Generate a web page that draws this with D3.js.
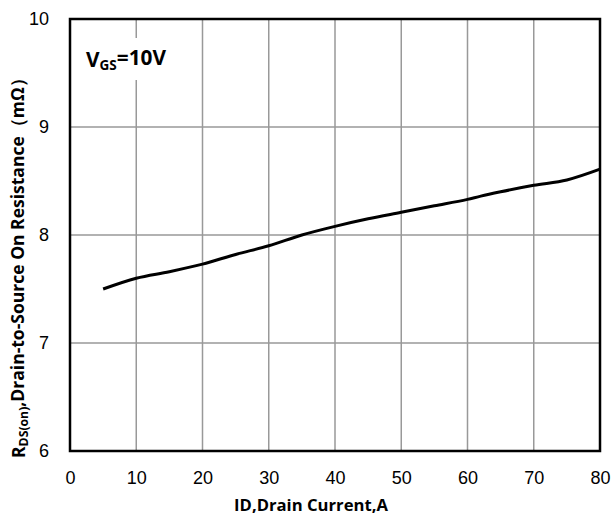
<!DOCTYPE html>
<html>
<head>
<meta charset="utf-8">
<script src="https://cdn.jsdelivr.net/npm/d3@7"></script>
<style>
  body { margin: 0; background: #fff; }
  svg { display: block; }
</style>
</head>
<body>
<div id="chart"></div>
<script>
// Data
const currentA = [5, 10, 15, 20, 25, 30, 35, 40, 45, 50, 55, 60, 62, 65, 70, 75, 80];
const resistance = [7.50, 7.60, 7.66, 7.73, 7.82, 7.90, 8.00, 8.08, 8.15, 8.21, 8.27, 8.33, 8.36, 8.40, 8.46, 8.51, 8.61];
const xTicks = [0, 10, 20, 30, 40, 50, 60, 70, 80];
const yTicks = [6, 7, 8, 9, 10];

const W = 614, H = 520;
const margin = { top: 19, right: 14, bottom: 69, left: 70 };
const width = W - margin.left - margin.right;
const height = H - margin.top - margin.bottom;

const xScale = d3.scaleLinear().domain([0, 80]).range([0, width]);
const yScale = d3.scaleLinear().domain([6, 10]).range([height, 0]);

const svg = d3.select("#chart").append("svg")
  .attr("width", W)
  .attr("height", H);

const g = svg.append("g")
  .attr("transform", `translate(${margin.left},${margin.top})`);

// gridlines
g.selectAll(".xgrid")
  .data(xTicks.slice(1, -1))
  .join("line")
  .attr("x1", d => xScale(d)).attr("x2", d => xScale(d))
  .attr("y1", 0).attr("y2", height)
  .attr("stroke", "#999").attr("stroke-width", 1.5);

g.selectAll(".ygrid")
  .data(yTicks.slice(1, -1))
  .join("line")
  .attr("x1", 0).attr("x2", width)
  .attr("y1", d => yScale(d)).attr("y2", d => yScale(d))
  .attr("stroke", "#999").attr("stroke-width", 1.5);

// white box behind the V_GS label breaks the gridline
g.append("rect")
  .attr("x", 12).attr("y", 19)
  .attr("width", 90).attr("height", 42)
  .attr("fill", "#fff");

// curve
const data = currentA.map((x, i) => ({ x, y: resistance[i] }));
const line = d3.line()
  .x(d => xScale(d.x))
  .y(d => yScale(d.y))
  .curve(d3.curveMonotoneX);

g.append("path")
  .datum(data)
  .attr("fill", "none")
  .attr("stroke", "#000")
  .attr("stroke-width", 3)
  .attr("d", line);

// frame
g.append("rect")
  .attr("width", width).attr("height", height)
  .attr("fill", "none")
  .attr("stroke", "#000")
  .attr("stroke-width", 2.5);

// axes (labels only)
g.append("g")
  .attr("transform", `translate(0,${height})`)
  .call(d3.axisBottom(xScale).tickValues(xTicks).tickSize(0).tickPadding(20))
  .call(a => a.select(".domain").remove())
  .selectAll("text")
  .style("font-family", "'Liberation Sans', Arial, sans-serif")
  .style("font-size", "18px")
  .attr("fill", "#000");

g.append("g")
  .call(d3.axisLeft(yScale).tickValues(yTicks).tickFormat(d3.format("d")).tickSize(0).tickPadding(21))
  .call(a => a.select(".domain").remove())
  .selectAll("text")
  .style("font-family", "'Liberation Sans', Arial, sans-serif")
  .style("font-size", "18px")
  .attr("fill", "#000");

// fit a bold label to the width it has in the reference
function fitText(sel, target) {
  const len = sel.node().getComputedTextLength();
  const fs = parseFloat(sel.style("font-size"));
  sel.style("font-size", (fs * target / len) + "px");
}

// V_GS label
const vgs = g.append("text")
  .attr("x", 16).attr("y", 48)
  .style("font-family", "'Open Sans', sans-serif")
  .style("font-weight", "bold")
  .style("font-size", "17px");
vgs.append("tspan").text("V");
vgs.append("tspan").attr("dy", "0.25em").style("font-size", "0.65em").text("GS");
vgs.append("tspan").attr("dy", "-0.25em").text("=10V");
fitText(vgs, 80);

// x axis title
const xt = svg.append("text")
  .attr("x", 311)
  .attr("y", 511)
  .attr("text-anchor", "middle")
  .style("font-family", "'Open Sans', sans-serif")
  .style("font-weight", "bold")
  .style("font-size", "14px")
  .text("ID,Drain Current,A");
fitText(xt, 154);

// y axis title
const yt = svg.append("text")
  .attr("transform", "translate(25,458) rotate(-90)")
  .attr("text-anchor", "start")
  .style("font-family", "'Open Sans', sans-serif")
  .style("font-weight", "bold")
  .style("font-size", "14px");
yt.append("tspan").text("R");
yt.append("tspan").attr("dy", "0.22em").style("font-size", "0.7em").text("DS(on)");
yt.append("tspan").attr("dy", "-0.22em").text(",Drain-to-Source On Resistance（mΩ）");
fitText(yt, 388);
</script>
</body>
</html>
